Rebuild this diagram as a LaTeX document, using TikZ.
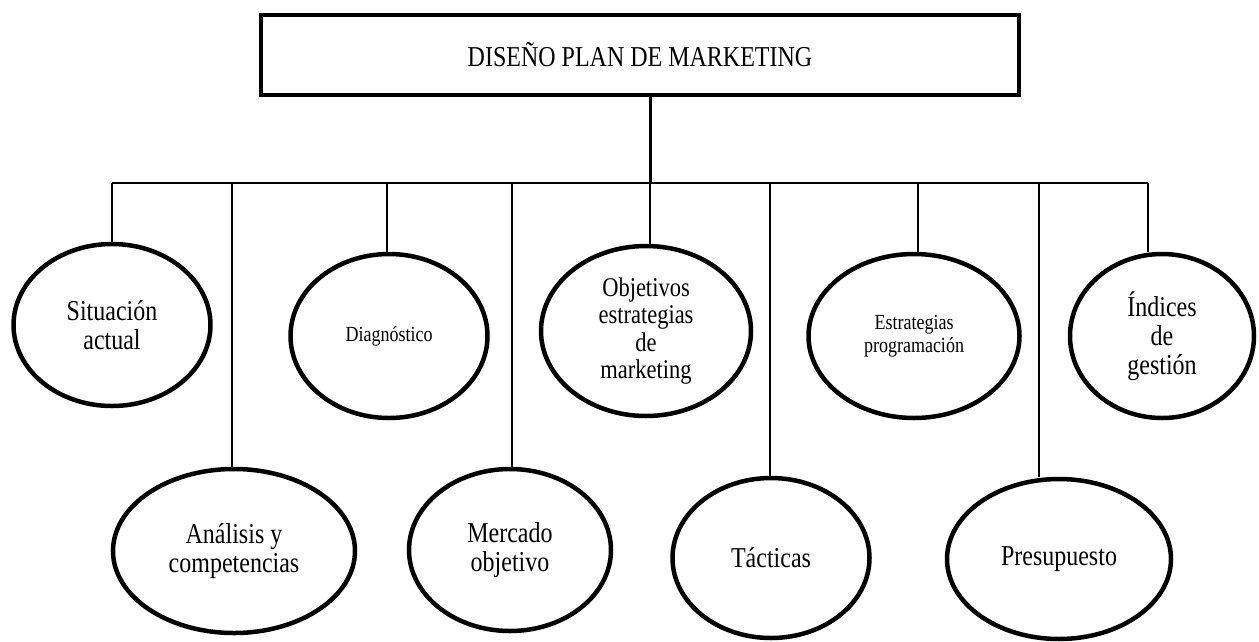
\documentclass[tikz,border=0pt]{standalone}
\usepackage{fontspec}
\setmainfont{Liberation Serif}[FakeStretch=0.8333]
\usetikzlibrary{shapes.geometric}
\begin{document}
\begin{tikzpicture}[x=1pt,y=-1pt,
  titlebox/.style={draw,line width=4pt,minimum width=758pt,minimum height=80pt,inner sep=0pt,font=\fontsize{28.8}{30}\selectfont},
  oval/.style={draw,ellipse,line width=4.5pt,inner sep=0pt,align=center,font=\fontsize{28.8}{29}\selectfont},
  smalltxt/.style={font=\fontsize{21.6}{23}\selectfont},
  trunk/.style={line width=3pt},
  branch/.style={line width=1.5pt}]
\useasboundingbox (0,0) rectangle (1259,641);
\node[titlebox] (title) at (640,55) {DISEÑO PLAN DE MARKETING};
% ellipses, upper row
\node[oval,minimum width=197pt,minimum height=162pt] (sit) at (112,325) {Situación\\actual};
\node[oval,smalltxt,minimum width=197pt,minimum height=164pt] (diag) at (389,336) {Diagnóstico};
\node[oval,font=\fontsize{27}{27.5}\selectfont,minimum width=210pt,minimum height=170pt] (obj) at (646,331) {Objetivos\\estrategias\\de\\marketing};
\node[oval,smalltxt,minimum width=211pt,minimum height=164pt] (estr) at (914,336) {Estrategias\\programación};
\node[oval,minimum width=184pt,minimum height=164pt] (ind) at (1162,336) {Índices\\de\\gestión};
% ellipses, lower row
\node[oval,minimum width=242pt,minimum height=164pt] (anal) at (234,551) {Análisis y\\competencias};
\node[oval,minimum width=202pt,minimum height=162pt] (merc) at (510,550) {Mercado\\objetivo};
\node[oval,minimum width=197pt,minimum height=160pt] (tac) at (771,558) {Tácticas};
\node[oval,minimum width=224pt,minimum height=160pt] (pres) at (1059,559) {Presupuesto};
% connectors
\coordinate (j) at (650,183);
\coordinate (bl) at (112,183);
\coordinate (br) at (1148,183);
\coordinate (d1) at (112,183);
\coordinate (d2) at (232,183);
\coordinate (d3) at (387,183);
\coordinate (d4) at (512,183);
\coordinate (d5) at (650,183);
\coordinate (d6) at (770,183);
\coordinate (d7) at (918,183);
\coordinate (d8) at (1039,183);
\coordinate (d9) at (1148,183);
\draw[trunk] (j |- title.south) -- (j);
\draw[branch] (bl) -- (br);
\draw[branch] (d1) -- (d1 |- sit.north);
\draw[branch] (d2) -- (d2 |- anal.north);
\draw[branch] (d3) -- (d3 |- diag.north);
\draw[branch] (d4) -- (d4 |- merc.north);
\draw[branch] (d5) -- (d5 |- obj.north);
\draw[branch] (d6) -- (d6 |- tac.north);
\draw[branch] (d7) -- (d7 |- estr.north);
\draw[branch] (d8) -- (d8 |- pres.north);
\draw[branch] (d9) -- (d9 |- ind.north);
\end{tikzpicture}
\end{document}
